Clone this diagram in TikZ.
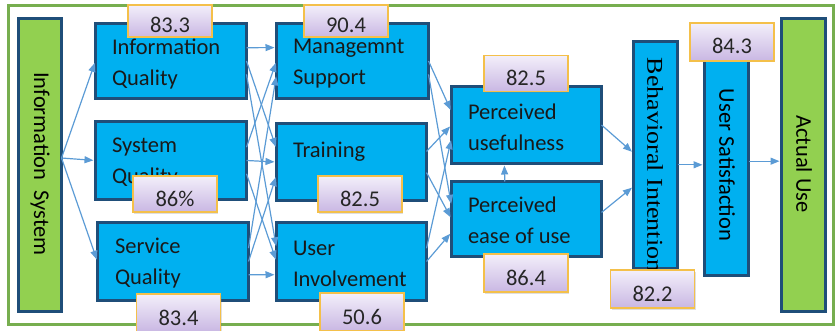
\documentclass[tikz,border=0pt]{standalone}
\usepackage{fontspec}
\setmainfont{Carlito}
\newfontfamily\bifont[FakeStretch=1.15]{Liberation Serif}
\usetikzlibrary{arrows.meta,shadows}
\definecolor{boxblue}{HTML}{00B0F0}
\definecolor{boxedge}{HTML}{1F4E79}
\definecolor{boxgreen}{HTML}{92D050}
\definecolor{framegreen}{HTML}{77AE4F}
\definecolor{linkblue}{HTML}{5B9BD5}
\definecolor{tagtop}{HTML}{F3EFFA}
\definecolor{tagbottom}{HTML}{C9B7E3}
\definecolor{tagedge}{HTML}{F4C04A}

\begin{document}
\begin{tikzpicture}[x=1pt,y=-1pt,
  every node/.style={inner sep=0pt, outer sep=0pt, font=\fontsize{22.5}{31}\selectfont},
  blk/.style={draw=boxedge, line width=3.5pt, fill=boxblue},
  gblk/.style={blk, fill=boxgreen},
  txt/.style={anchor=west, align=left, text=black!90},
  tag/.style={draw=tagedge, line width=1.2pt, top color=tagtop, bottom color=tagbottom,
    minimum width=84pt, minimum height=36pt, text height=24pt, text depth=0pt, text=black!85,
    drop shadow={shadow xshift=1pt, shadow yshift=-1.5pt, opacity=.25}},
  link/.style={draw=linkblue, line width=1.2pt, -{Triangle[length=9pt,width=7pt]}, shorten >=2pt}]

\clip (0,0) rectangle (837,331);
\node[draw=framegreen, line width=3pt, minimum width=825pt, minimum height=318pt] (frame) at (420.5,165) {};

\node[gblk, minimum width=43pt, minimum height=293pt] (is) at (40,165) {};
\node[blk, minimum width=151pt, minimum height=75pt] (iq) at (171,61) {};
\node[blk, minimum width=151pt, minimum height=78pt] (sq) at (171,160.5) {};
\node[blk, minimum width=151pt, minimum height=78pt] (svq) at (173,261.5) {};
\node[blk, minimum width=152pt, minimum height=75pt] (ms) at (352.5,61) {};
\node[blk, minimum width=150pt, minimum height=77pt] (tr) at (351.5,162) {};
\node[blk, minimum width=150pt, minimum height=78pt] (ui) at (351.5,261.5) {};
\node[blk, minimum width=150pt, minimum height=77pt] (pu) at (526.5,125) {};
\node[blk, minimum width=150pt, minimum height=75pt] (peou) at (526.5,219) {};
\node[blk, minimum width=44pt, minimum height=227pt] (bi) at (655.5,155) {};
\node[blk, minimum width=44pt, minimum height=216pt] (us) at (726.5,167.5) {};
\node[gblk, minimum width=44pt, minimum height=293pt] (au) at (803.5,165) {};

\node[rotate=-90] (is-t) at (40,164) {Information\ \ System};
\node[txt] (iq-t) at (112,64.5) {Information\\Quality};
\node[txt] (sq-t) at (112,162.5) {System\\Quality};
\node[txt] (svq-t) at (115,263.5) {Service\\Quality};
\node[txt] (ms-t) at (293,63.5) {Managemnt\\Support};
\node[txt] (tr-t) at (293,152) {Training};
\node[txt] (ui-t) at (293,263.5) {User\\Involvement};
\node[txt] (pu-t) at (468,127.5) {Perceived\\usefulness};
\node[txt] (peou-t) at (468,220.5) {Perceived\\ease of use};
\node[rotate=-90, anchor=west, font=\bifont\fontsize{22.6}{31}\selectfont] (bi-t) at (655,58) {Behavioral Intention};
\node[rotate=-90] (us-t) at (727,165) {User Satisfaction};
\node[rotate=-90] (au-t) at (804,164) {Actual Use};

\draw[link] (is.18) -- (iq.west);
\draw[link] (is.18) -- (sq.west);
\draw[link] (is.18) -- (svq.west);
\foreach \s/\a/\t/\b in {iq/10/ms/170, iq/0/tr/170, iq/350/ui/170,
    sq/10/ms/180, sq/0/tr/180, sq/350/ui/180,
    svq/10/ms/190, svq/0/tr/190, svq/350/ui/190}
  \draw[link] (\s.\a) -- (\t.\b);
\foreach \s/\a/\t/\b in {ms/0/pu/170, ms/350/peou/170, tr/8/pu/180,
    tr/352/peou/180, ui/10/pu/190, ui/0/peou/190}
  \draw[link] (\s.\a) -- (\t.\b);
\draw[link] (peou.120) -- (pu.240);
\draw[link] (pu.east) -- (bi.175);
\draw[link] (peou.5) -- (bi.235);
\draw[link] (bi.336) -- (bi.336 -| us.west);
\draw[link] (us.16) -- (us.16 -| au.west);

\node[tag, minimum height=32pt] (iq-v) at (170,21) {83.3};
\node[tag] (sq-v) at (175,194) {86\%};
\node[tag, minimum height=38pt] (svq-v) at (178.5,313) {83.4};
\node[tag, minimum height=32pt] (ms-v) at (346,21) {90.4};
\node[tag] (tr-v) at (360,194) {82.5};
\node[tag, minimum height=38pt] (ui-v) at (362,312) {50.6};
\node[tag] (pu-v) at (526,73.5) {82.5};
\node[tag, minimum height=38pt] (peou-v) at (526,273) {86.4};
\node[tag, minimum height=38pt] (bi-v) at (652.5,289) {82.2};
\node[tag, minimum height=38pt] (us-v) at (732,42) {84.3};
\end{tikzpicture}
\end{document}
